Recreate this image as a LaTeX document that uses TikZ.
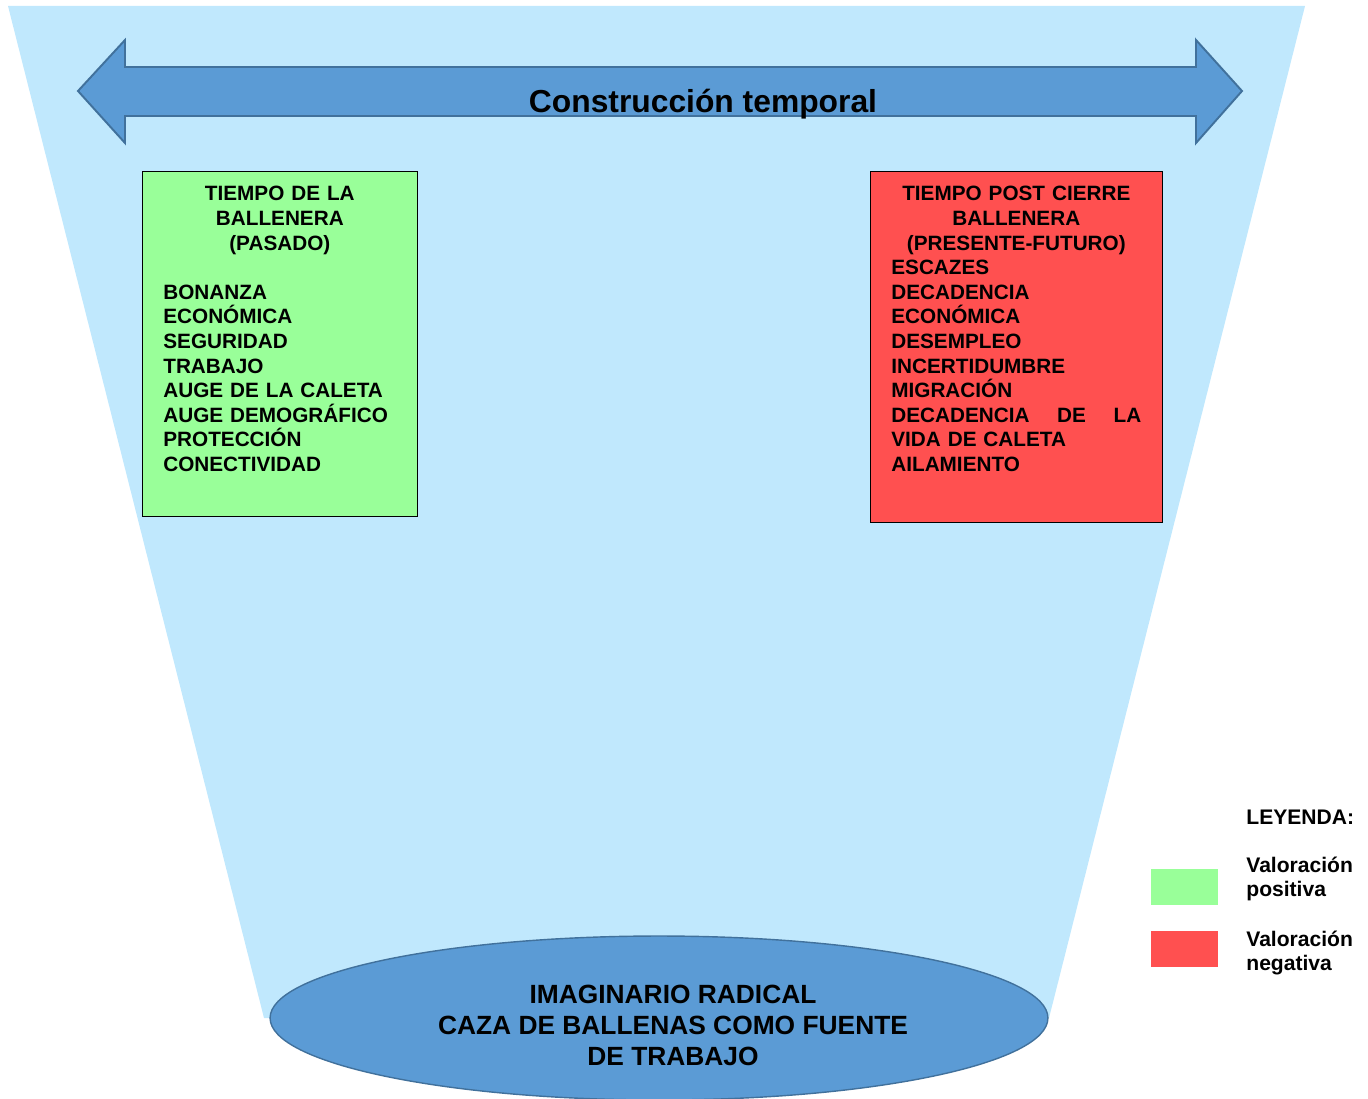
\documentclass[tikz,border=0pt]{standalone}
\usepackage{fontspec}
\setmainfont{Liberation Sans}
\usetikzlibrary{positioning,shapes.geometric}

\definecolor{embudo}{RGB}{192,232,253}
\definecolor{azulflecha}{RGB}{91,155,213}
\definecolor{bordeazul}{RGB}{65,113,156}
\definecolor{verdeval}{RGB}{153,255,153}
\definecolor{rojoval}{RGB}{255,80,80}

\tikzset{
  valbox/.style={draw=black,line width=0.8pt,rectangle,inner sep=0pt,anchor=north west},
  boxtext/.style={inner sep=0pt,align=left,font=\fontsize{11.8}{14}\selectfont\bfseries},
  leytext/.style={inner sep=0pt,align=left,font=\fontsize{12}{14}\selectfont\bfseries},
  swatch/.style={rectangle,inner sep=0pt,minimum width=1.34cm,minimum height=0.72cm}
}

\begin{document}
\begin{tikzpicture}[x=0.02cm,y=-0.02cm]
\useasboundingbox (0,0) rectangle (1368,1098);
% funnel
\fill[embudo] (8,6) -- (1305,6) -- (1049,1018) -- (264,1018) -- cycle;
% time arrow
\draw[fill=azulflecha,draw=bordeazul,line width=1.1pt,line join=miter]
  (78,91) -- (125,40) -- (125,67) -- (1196,67) -- (1196,40) -- (1242,91)
  -- (1196,143) -- (1196,116) -- (125,116) -- (125,143) -- cycle;
\node[font=\fontsize{18.1}{21}\selectfont\bfseries] (titulo) at (703,104) {Construcción temporal};

% past
\node[valbox,fill=verdeval,minimum width=5.5cm,minimum height=6.9cm] (pasado) at (142,171) {};
\node[boxtext,text width=4.66cm,below right=0.3cm and 0.42cm of pasado.north west] (pasadotxt) {%
  {\centering TIEMPO DE LA\\ BALLENERA\\ (PASADO)\par}
  \vspace{\baselineskip}
  BONANZA\\ ECONÓMICA\\ SEGURIDAD\\ TRABAJO\\ AUGE DE LA CALETA\\
  AUGE DEMOGRÁFICO\\ PROTECCIÓN\\ CONECTIVIDAD};

% present-future
\node[valbox,fill=rojoval,minimum width=5.84cm,minimum height=7.02cm] (presente) at (870,171) {};
\node[boxtext,text width=5cm,below right=0.3cm and 0.42cm of presente.north west] (presentetxt) {%
  {\centering TIEMPO POST CIERRE\\ BALLENERA\\ (PRESENTE-FUTURO)\par}
  ESCAZES\\ DECADENCIA\\ ECONÓMICA\\ DESEMPLEO\\ INCERTIDUMBRE\\ MIGRACIÓN\\
  DECADENCIA\hfill DE\hfill LA\\ VIDA DE CALETA\\ AILAMIENTO};

% radical imaginary
\node[ellipse,fill=azulflecha,draw=bordeazul,line width=0.8pt,inner sep=0pt,
      minimum width=15.56cm,minimum height=3.28cm] (imaginario) at (659,1018) {};
\node[align=center,font=\fontsize{15}{17.6}\selectfont\bfseries] (imaginariotxt) at (673,1025)
  {IMAGINARIO RADICAL\\ CAZA DE BALLENAS COMO FUENTE\\ DE TRABAJO};

% legend
\node[leytext,anchor=base west] (leyenda) at (1246,824) {LEYENDA:};
\node[swatch,fill=verdeval] (leyverde) at (1184.5,887) {};
\node[swatch,fill=rojoval] (leyrojo) at (1184.5,949) {};
\node[leytext,anchor=west] (leyverdetxt) at (1246,879) {Valoración\\ positiva};
\node[leytext,anchor=west] (leyrojotxt) at (1246,953) {Valoración\\ negativa};
\end{tikzpicture}
\end{document}
